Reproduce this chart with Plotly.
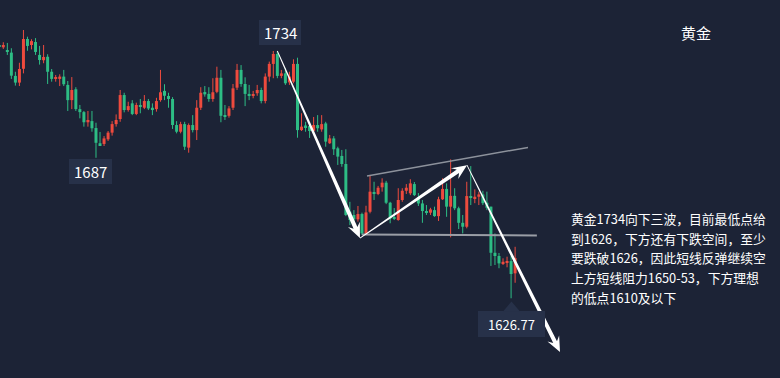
import math
import plotly.graph_objects as go

# ---------------- data ----------------
opens = [1736.0, 1735.6, 1734.0, 1733.3, 1723.2, 1720.3, 1726.3, 1739.2, 1736.6, 1737.9,
         1732.3, 1730.0, 1731.5, 1725.0, 1721.9, 1721.9, 1722.9, 1719.3, 1712.7, 1717.4,
         1708.8, 1707.5, 1703.1, 1703.6, 1700.6, 1694.0, 1693.7, 1695.7, 1698.6, 1702.3,
         1704.5, 1714.9, 1708.4, 1711.3, 1706.7, 1710.6, 1709.4, 1712.3, 1709.4, 1708.8,
         1712.7, 1716.7, 1714.5, 1713.2, 1701.9, 1699.0, 1702.3, 1692.1, 1701.9, 1699.7,
         1709.4, 1716.2, 1715.4, 1713.2, 1716.3, 1722.4, 1705.9, 1705.9, 1709.4, 1718.1,
         1725.8, 1719.7, 1715.4, 1714.5, 1715.7, 1717.1, 1712.3, 1722.9, 1728.4, 1732.7,
         1723.2, 1724.3, 1720.4, 1720.7, 1728.4, 1699.7, 1701.7, 1701.5, 1699.4, 1701.9,
         1700.0, 1702.6, 1694.0, 1696.1, 1691.8, 1688.5, 1685.0, 1664.3, 1662.9, 1661.0,
         1663.3, 1654.6, 1664.3, 1672.5, 1672.0, 1674.9, 1676.9, 1668.2, 1661.9, 1660.7,
         1669.4, 1673.4, 1672.3, 1676.3, 1670.7, 1667.9, 1664.6, 1663.9, 1665.0, 1662.4,
         1669.7, 1674.2, 1666.5, 1671.2, 1665.8, 1659.5, 1657.8, 1671.1, 1670.1, 1670.8,
         1671.8, 1668.2, 1666.5, 1646.5, 1645.1, 1641.9, 1642.2, 1642.9, 1637.6]
highs = [1736.5, 1737.8, 1737.5, 1735.2, 1725.0, 1728.9, 1743.1, 1740.2, 1739.1, 1739.6,
         1736.2, 1736.6, 1732.6, 1726.2, 1723.6, 1723.9, 1725.8, 1721.0, 1722.7, 1718.3,
         1710.6, 1708.0, 1708.0, 1708.0, 1702.9, 1698.9, 1697.1, 1699.3, 1703.6, 1706.5,
         1717.1, 1715.9, 1712.0, 1712.7, 1711.6, 1713.2, 1714.9, 1713.2, 1711.3, 1713.7,
         1725.8, 1719.6, 1715.9, 1714.0, 1703.6, 1703.3, 1703.3, 1702.6, 1706.2, 1712.7,
         1718.3, 1718.8, 1718.3, 1722.2, 1727.2, 1725.8, 1710.6, 1710.1, 1719.7, 1728.4,
         1727.9, 1722.6, 1719.3, 1716.7, 1719.3, 1718.1, 1724.3, 1729.4, 1734.0, 1734.0,
         1725.8, 1726.5, 1725.0, 1730.4, 1731.1, 1707.0, 1703.3, 1703.2, 1705.4, 1706.2,
         1706.2, 1703.3, 1697.6, 1697.1, 1692.5, 1691.1, 1691.4, 1668.6, 1665.0, 1666.8,
         1663.9, 1666.9, 1679.8, 1677.3, 1675.5, 1678.8, 1677.7, 1668.6, 1665.9, 1674.5,
         1674.5, 1676.3, 1678.4, 1677.2, 1672.4, 1669.4, 1667.2, 1666.0, 1666.5, 1670.8,
         1678.8, 1676.6, 1687.0, 1674.5, 1666.5, 1662.9, 1677.3, 1684.1, 1674.0, 1673.0,
         1673.4, 1673.0, 1666.5, 1654.9, 1646.4, 1644.1, 1644.8, 1645.1, 1649.1]
lows = [1735.3, 1734.9, 1732.3, 1721.9, 1719.0, 1718.8, 1724.3, 1734.1, 1734.7, 1732.3,
        1728.1, 1728.7, 1719.7, 1720.7, 1720.7, 1718.8, 1718.8, 1708.0, 1708.8, 1708.0,
        1704.8, 1701.2, 1701.2, 1699.0, 1687.7, 1693.2, 1692.8, 1695.0, 1697.3, 1701.2,
        1703.3, 1707.4, 1707.7, 1706.2, 1706.2, 1707.0, 1708.8, 1708.4, 1706.2, 1707.7,
        1712.0, 1712.7, 1709.4, 1700.2, 1698.3, 1698.3, 1691.1, 1689.9, 1698.7, 1695.4,
        1708.4, 1714.2, 1712.0, 1712.0, 1715.7, 1703.1, 1704.1, 1705.1, 1708.4, 1717.1,
        1718.5, 1710.1, 1712.7, 1713.5, 1714.6, 1711.3, 1711.3, 1720.7, 1722.2, 1722.2,
        1722.2, 1719.3, 1719.3, 1720.0, 1696.4, 1699.3, 1699.0, 1696.3, 1698.4, 1699.0,
        1699.0, 1692.5, 1693.7, 1688.9, 1684.6, 1683.8, 1662.4, 1658.5, 1657.1, 1660.0,
        1654.2, 1654.2, 1663.6, 1669.4, 1671.5, 1673.0, 1667.6, 1659.3, 1660.7, 1660.4,
        1668.6, 1672.0, 1671.5, 1671.1, 1666.8, 1659.5, 1662.9, 1662.9, 1662.1, 1660.3,
        1669.4, 1662.1, 1653.2, 1665.0, 1656.8, 1654.9, 1657.1, 1667.2, 1668.0, 1667.2,
        1667.2, 1665.0, 1640.8, 1641.2, 1639.8, 1641.2, 1640.2, 1626.77, 1633.5]
closes = [1735.8, 1736.6, 1733.8, 1723.3, 1720.3, 1726.2, 1739.2, 1736.2, 1738.3, 1733.6,
          1730.1, 1731.4, 1725.0, 1721.9, 1722.4, 1722.9, 1719.6, 1712.7, 1717.1, 1708.8,
          1707.5, 1703.1, 1704.1, 1700.5, 1694.2, 1693.2, 1696.1, 1698.6, 1702.3, 1704.1,
          1714.9, 1708.4, 1710.1, 1706.7, 1710.6, 1709.8, 1712.3, 1709.1, 1708.4, 1712.3,
          1716.1, 1714.6, 1713.2, 1701.9, 1699.0, 1702.3, 1692.5, 1701.9, 1699.7, 1709.4,
          1715.9, 1715.2, 1713.2, 1716.1, 1722.4, 1705.9, 1705.5, 1709.1, 1717.8, 1725.8,
          1719.7, 1715.4, 1714.6, 1715.0, 1717.1, 1712.3, 1722.9, 1728.4, 1732.7, 1723.2,
          1724.3, 1720.0, 1722.9, 1728.4, 1699.7, 1701.2, 1701.0, 1699.3, 1701.9, 1700.5,
          1702.3, 1694.7, 1696.1, 1691.4, 1688.2, 1685.0, 1662.9, 1660.7, 1661.0, 1663.3,
          1654.9, 1664.0, 1673.0, 1672.0, 1674.7, 1676.9, 1668.2, 1661.4, 1661.3, 1669.4,
          1673.4, 1674.7, 1676.6, 1671.5, 1667.9, 1664.6, 1663.9, 1665.3, 1662.4, 1669.7,
          1674.2, 1666.5, 1671.2, 1665.8, 1659.5, 1657.8, 1671.1, 1670.6, 1670.8, 1671.8,
          1668.0, 1666.0, 1646.5, 1645.1, 1641.9, 1642.6, 1642.9, 1637.3, 1644.2]
bars = list(range(len(opens)))

# price labels
label_texts = ["1734", "1687", "1626.77"]
# arrows: (bar index, price) start -> end
arrow_starts = [(69.0, 1734.0), (89.5, 1652.9), (116.06, 1684.5)]
arrow_ends = [(89.5, 1652.9), (116.06, 1684.5), (139.14, 1603.5)]
# trend lines (bar index, price)
upper_line = [(91.25, 1679.8), (131.2, 1692.2)]
lower_line = [(90.0, 1654.4), (133.4, 1654.0)]

title_text = "黄金"
comment_lines = ["黄金1734向下三波，目前最低点给",
                 "到1626，下方还有下跌空间，至少",
                 "要跌破1626，因此短线反弹继续空",
                 "上方短线阻力1650-53，下方理想",
                 "的低点1610及以下"]

# ---------------- style / layout ----------------
W, H = 780, 378
X_RANGE = [0.181, 193.73]
Y_RANGE = [1592.2, 1756.12]
UP = "#ee4b3e"
DOWN = "#2ebd85"
BG = "#1c2336"
BOX = "#273149"
FONT = "Noto Sans CJK SC, Noto Sans, sans-serif"


def to_px(i):
    return (i - X_RANGE[0]) / (X_RANGE[1] - X_RANGE[0]) * W


def to_py(p):
    return (Y_RANGE[1] - p) / (Y_RANGE[1] - Y_RANGE[0]) * H


def from_px(x):
    return X_RANGE[0] + x / W * (X_RANGE[1] - X_RANGE[0])


def from_py(y):
    return Y_RANGE[1] - y / H * (Y_RANGE[1] - Y_RANGE[0])


fig = go.Figure()

# bodies
for color, is_up in ((UP, True), (DOWN, False)):
    xs, base, hgt = [], [], []
    for i, o, c in zip(bars, opens, closes):
        if (c >= o) == is_up:
            xs.append(i)
            lo = min(o, c)
            hgt.append(max(abs(c - o), 0.45))
            base.append(lo)
    fig.add_trace(go.Bar(x=xs, y=hgt, base=base, width=0.74,
                         marker=dict(color=color, line=dict(width=0)),
                         hoverinfo="skip", showlegend=False))

# wicks
for color, is_up in ((UP, True), (DOWN, False)):
    wx, wy = [], []
    for i, o, h, l, c in zip(bars, opens, highs, lows, closes):
        if (c >= o) == is_up:
            wx += [i, i, None]
            wy += [l, h, None]
    fig.add_trace(go.Scatter(x=wx, y=wy, mode="lines",
                             line=dict(color=color, width=1),
                             hoverinfo="skip", showlegend=False))

shapes = []

# trend lines
shapes.append(dict(type="line", xref="x", yref="y",
                   x0=upper_line[0][0], y0=upper_line[0][1],
                   x1=upper_line[1][0], y1=upper_line[1][1],
                   line=dict(color="#8d929c", width=1.5)))
shapes.append(dict(type="line", xref="x", yref="y",
                   x0=lower_line[0][0], y0=lower_line[0][1],
                   x1=lower_line[1][0], y1=lower_line[1][1],
                   line=dict(color="#9a9ea6", width=2)))


# tapered arrows
def arrow_path(s, e, w0=0.9, w1=4.2, head_len=15, head_half=6.5, notch=4):
    sx, sy = to_px(s[0]), to_py(s[1])
    ex, ey = to_px(e[0]), to_py(e[1])
    L = math.hypot(ex - sx, ey - sy)
    ux, uy = (ex - sx) / L, (ey - sy) / L
    nx, ny = -uy, ux
    bx, by = ex - ux * (head_len - notch), ey - uy * (head_len - notch)
    hx, hy = ex - ux * head_len, ey - uy * head_len
    pts = [(sx + nx * w0 / 2, sy + ny * w0 / 2),
           (bx + nx * w1 / 2, by + ny * w1 / 2),
           (hx + nx * head_half, hy + ny * head_half),
           (ex, ey),
           (hx - nx * head_half, hy - ny * head_half),
           (bx - nx * w1 / 2, by - ny * w1 / 2),
           (sx - nx * w0 / 2, sy - ny * w0 / 2)]
    d = "M " + " L ".join(f"{from_px(x):.4f},{from_py(y):.4f}" for x, y in pts) + " Z"
    return d


for s, e in zip(arrow_starts, arrow_ends):
    shapes.append(dict(type="path", xref="x", yref="y", path=arrow_path(s, e),
                       fillcolor="#ffffff", line=dict(width=0)))


def pxr(x):
    return x / W


def pyr(y):
    return 1 - y / H


# label boxes (pixel boxes)
label_boxes = [(259, 20, 301, 45), (69, 159, 112, 184), (478, 311, 545, 337)]
label_sizes = [15, 15, 13]
for (x0, y0, x1, y1) in label_boxes:
    shapes.append(dict(type="rect", xref="paper", yref="paper",
                       x0=pxr(x0), x1=pxr(x1), y0=pyr(y1), y1=pyr(y0),
                       fillcolor=BOX, line=dict(width=0), layer="above"))
# pointer for the low label
shapes.append(dict(type="path", xref="paper", yref="paper",
                   path=f"M {pxr(503)},{pyr(311.5)} L {pxr(511.5)},{pyr(301.5)} L {pxr(520)},{pyr(311.5)} Z",
                   fillcolor=BOX, line=dict(width=0)))

annotations = []
for t, (x0, y0, x1, y1), fs in zip(label_texts, label_boxes, label_sizes):
    annotations.append(dict(text=t, xref="paper", yref="paper",
                            x=pxr((x0 + x1) / 2), y=pyr((y0 + y1) / 2),
                            xanchor="center", yanchor="middle", showarrow=False,
                            font=dict(family=FONT, size=fs, color="#ffffff")))

annotations.append(dict(text=title_text, xref="paper", yref="paper",
                        x=pxr(696), y=pyr(32), xanchor="center", yanchor="middle",
                        showarrow=False, font=dict(family=FONT, size=15, color="#ffffff")))

line_y = [218, 238, 257.5, 277.5, 297]
for t, yy in zip(comment_lines, line_y):
    annotations.append(dict(text=t, xref="paper", yref="paper",
                            x=pxr(569), y=pyr(yy), xanchor="left", yanchor="middle",
                            showarrow=False, font=dict(family=FONT, size=12.8, color="#ffffff")))

fig.update_layout(
    width=W, height=H,
    margin=dict(l=0, r=0, t=0, b=0),
    paper_bgcolor=BG, plot_bgcolor=BG,
    barmode="overlay",
    xaxis=dict(range=X_RANGE, visible=False, fixedrange=True),
    yaxis=dict(range=Y_RANGE, visible=False, fixedrange=True),
    shapes=shapes, annotations=annotations,
    showlegend=False,
)

fig.write_html("out.html", config={"displayModeBar": False},
               post_script="document.body.style.margin='0';document.body.style.padding='0';"
                           "document.body.style.overflow='hidden';"
                           "document.body.style.background='" + BG + "';")
